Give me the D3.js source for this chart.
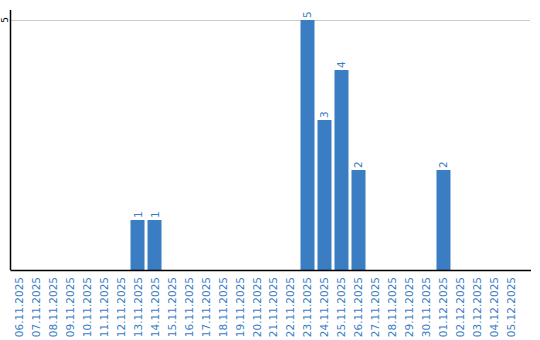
<!DOCTYPE html>
<html>
<head>
<meta charset="utf-8">
<script src="https://cdn.jsdelivr.net/npm/d3@7"></script>
<style>
    body { margin: 0; background: #fff; }
    svg { display: block; font-family: "DejaVu Sans", Verdana, sans-serif; }
</style>
</head>
<body>
<div id="chart"></div>
<script>
const dates = ["06.11.2025", "07.11.2025", "08.11.2025", "09.11.2025", "10.11.2025",
    "11.11.2025", "12.11.2025", "13.11.2025", "14.11.2025", "15.11.2025",
    "16.11.2025", "17.11.2025", "18.11.2025", "19.11.2025", "20.11.2025",
    "21.11.2025", "22.11.2025", "23.11.2025", "24.11.2025", "25.11.2025",
    "26.11.2025", "27.11.2025", "28.11.2025", "29.11.2025", "30.11.2025",
    "01.12.2025", "02.12.2025", "03.12.2025", "04.12.2025", "05.12.2025"];
const counts = [0, 0, 0, 0, 0, 0, 0, 1, 1, 0,
    0, 0, 0, 0, 0, 0, 0, 5, 3, 4,
    2, 0, 0, 0, 0, 2, 0, 0, 0, 0];
const yTicks = [5];

const data = dates.map((d, i) => ({ date: d, value: counts[i] }));

const width = 540, height = 340;
const plotLeft = 10.5, plotRight = 531, plotTop = 10, plotBottom = 270;
const blue = "#3b7dc3";

const svg = d3.select("#chart").append("svg")
    .attr("width", width)
    .attr("height", height);

const x = d3.scaleBand()
    .domain(dates)
    .range([10, 520])
    .paddingInner(3 / 17)
    .paddingOuter(0.09);

const y = d3.scaleLinear()
    .domain([0, 5])
    .range([plotBottom, 20]);

// gridlines
svg.append("g")
    .selectAll("line")
    .data(yTicks)
    .enter().append("line")
    .attr("x1", plotLeft)
    .attr("x2", 530)
    .attr("y1", d => Math.round(y(d)) + 0.5)
    .attr("y2", d => Math.round(y(d)) + 0.5)
    .attr("stroke", "#cccccc");

// bars
svg.append("g")
    .selectAll("rect")
    .data(data.filter(d => d.value > 0))
    .enter().append("rect")
    .attr("x", d => x(d.date))
    .attr("y", d => y(d.value))
    .attr("width", x.bandwidth())
    .attr("height", d => plotBottom - y(d.value))
    .attr("fill", blue);

// value labels
svg.append("g")
    .selectAll("text")
    .data(data.filter(d => d.value > 0))
    .enter().append("text")
    .attr("transform", d => `translate(${x(d.date) + x.bandwidth() / 2 + 4},${y(d.value) - 2}) rotate(-90)`)
    .attr("font-size", 10.5)
    .attr("fill", blue)
    .text(d => d.value);

// y axis
svg.append("line")
    .attr("x1", plotLeft).attr("x2", plotLeft)
    .attr("y1", plotTop).attr("y2", plotBottom)
    .attr("stroke", "#000")
    .attr("stroke-width", 1.5);

svg.append("g")
    .selectAll("text")
    .data(yTicks)
    .enter().append("text")
    .attr("transform", d => `translate(8,${y(d)}) rotate(-90)`)
    .attr("text-anchor", "middle")
    .attr("font-size", 9)
    .attr("fill", "#000")
    .text(d => d);

// x axis
svg.append("line")
    .attr("x1", plotLeft).attr("x2", plotRight)
    .attr("y1", plotBottom + 0.5).attr("y2", plotBottom + 0.5)
    .attr("stroke", "#000")
    .attr("stroke-width", 1.5);

svg.append("g")
    .selectAll("text")
    .data(dates)
    .enter().append("text")
    .attr("transform", d => `translate(${x(d) + x.bandwidth() / 2 + 4},277) rotate(-90)`)
    .attr("text-anchor", "end")
    .attr("font-size", 10.5)
    .attr("fill", blue)
    .text(d => d);
</script>
</body>
</html>
